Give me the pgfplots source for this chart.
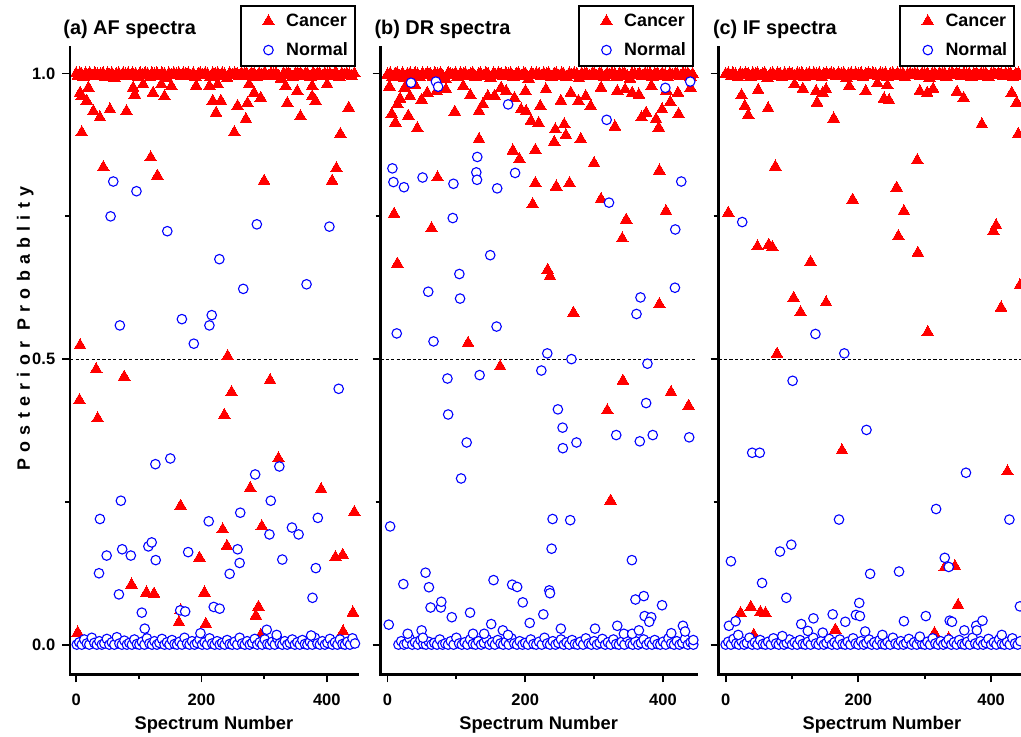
\documentclass[border=0pt]{standalone}
\usepackage{pgfplots}
\pgfplotsset{compat=1.18}
\usepackage{fontspec}
\setmainfont{Liberation Sans}
\begin{document}
\pgfplotsset{
 canc/.style={only marks, mark=triangle*, mark size=3.38pt, red, mark options={solid, fill=red, draw=red, line width=0pt}},
 norm/.style={only marks, mark=*, mark size=2.4pt, blue, mark options={solid, fill=white, draw=blue, line width=0.55pt}},
 panel/.style={
  scale only axis, height=315.5pt,
  ymin=-0.052, ymax=1.047,
  axis line style={draw=none},
  tick pos=left,
  tick align=outside,
  xtick={0,200,400}, xticklabels={0,200,400}, minor xtick={100,300},
  ytick={0,0.5,1}, minor ytick={0.25,0.75},
  major tick length=4pt, minor tick length=2.5pt,
  every tick/.style={black, line width=0.9pt},
  ticklabel style={font=\bfseries\fontsize{8.3}{9}\selectfont},
  xticklabel style={yshift=-2.5pt},
  clip=false,
  legend cell align=left,
  legend image code/.code={\path (-12pt,0pt) (6.5pt,0pt); \draw[##1] plot coordinates {(0pt,0pt)};},
  legend style={draw=black, line width=0.8pt, fill=white, font=\bfseries\fontsize{9}{10}\selectfont, anchor=north east, inner xsep=1.5pt, inner ysep=2pt, row sep=2.5pt},
  every axis x label/.style={at={(axis description cs:0.5,-0.08)}, anchor=center, font=\bfseries\fontsize{9.2}{10}\selectfont},
  xlabel={Spectrum Number},
 },
 frame/.code={\draw[line width=1.2pt, line cap=rect] (axis description cs:0,1) -- (axis description cs:0,0) -- (axis description cs:1,0);},
 half/.style={forget plot, black, line width=0.5pt, dash pattern=on 1.6pt off 1.1pt},
}
\begin{tikzpicture}
\useasboundingbox (0,0) rectangle (510.5pt,370pt);
% ---------------- Panel (a) ----------------
\begin{axis}[panel, at={(32.5pt,31pt)}, anchor=south west, width=144.5pt,
  xmin=-9.5, xmax=449.2,
  yticklabels={0.0,0.5,1.0},
  every axis y label/.style={at={(axis description cs:-0.156,0.551)}, rotate=90, anchor=center, font=\bfseries\fontsize{9}{10}\selectfont},
  ylabel={\addfontfeature{LetterSpace=35}Posterior Probablity},
  legend style={at={(axis description cs:0.993,1.0666)}},
  after end axis/.code={\pgfplotsset{frame}\node[inner sep=0pt, anchor=base west, font=\bfseries\fontsize{10}{12}\selectfont] at (axis description cs:-0.025,1.019) {(a) AF spectra};}]
\addplot[half] coordinates {(-9.5,0.5)(449.2,0.5)};
\addplot[canc] coordinates {
(0,1)(3,0.996)(6,1)(9,0.998)(12,0.993)(15,1)(19,0.997)(22,1)(26,0.995)(30,1)(34,0.998)(39,0.999)(43,1)(46,0.994)(50,1)(53,0.997)(57,1)(61,0.992)(64,0.999)(68,1)(72,0.996)(75,1)(79,0.998)(83,1)(87,0.995)(90,1)(95,0.999)(99,0.993)(102,1)(106,0.997)(110,1)(114,0.999)(118,0.994)(121,1)(125,0.998)(129,1)(133,0.996)(137,1)(141,0.999)(145,0.992)(148,1)(152,0.997)(156,1)(160,0.998)(164,1)(168,0.995)(171,1)(175,0.999)(179,1)(183,0.996)(187,1)(191,0.993)(195,0.999)(198,1)(202,0.997)(206,1)(210,0.998)(214,0.994)(218,1)(222,0.999)(226,1)(229,0.996)(233,1)(237,0.998)(241,0.992)(245,1)(249,0.997)(253,1)(257,0.999)(261,0.995)(264,1)(268,0.998)(272,1)(276,0.996)(280,1)(284,0.999)(288,0.993)(292,1)(296,0.997)(300,1)(303,0.998)(307,0.995)(311,1)(315,0.999)(319,1)(323,0.996)(327,0.991)(331,1)(335,0.998)(339,1)(342,0.997)(346,0.994)(350,1)(354,0.999)(358,1)(362,0.996)(366,1)(370,0.998)(374,0.993)(378,1)(381,0.997)(385,1)(389,0.999)(393,0.995)(397,1)(401,0.998)(405,1)(409,0.996)(413,1)(416,0.999)(420,0.994)(424,1)(428,0.997)(432,1)(436,0.998)(440,0.995)(444,1)
(6.3,0.966)(19.6,0.975)(9,0.960)(17,0.952)(27.5,0.934)(38,0.923)(54,0.937)(80.4,0.934)(9,0.897)(91,0.975)(93.6,0.963)(106.9,0.981)(122.7,0.966)(136,0.981)(141,0.96)(152,0.978)(191.5,0.978)(212.7,0.978)(218,0.952)(226,0.981)(223.3,0.931)(231,0.952)(257.6,0.943)(252.4,0.897)(270.9,0.920)(273.5,0.948)(276,0.981)(284,0.966)(294.7,0.957)(334.4,0.978)(337,0.948)(352.9,0.969)(358,0.925)(376.7,0.978)(376.7,0.96)(382,0.952)(400.5,0.981)(421.7,0.894)(435,0.94)(43.4,0.836)(119,0.853)(129.7,0.821)(300,0.812)(415.3,0.834)(408.5,0.812)(6.3,0.524)(241.8,0.505)(32,0.482)
(76.7,0.469)(5.3,0.428)(34.4,0.396)(248,0.442)(309.5,0.463)(236.5,0.402)(322.8,0.326)(277.8,0.274)(391,0.272)(166.7,0.243)(444,0.232)(233.9,0.2015)(296.3,0.207)(240.7,0.1725)(196.8,0.152)(413.8,0.153)(425.4,0.157)(88.4,0.105)(112.2,0.091)(124.3,0.089)(204.8,0.091)(291,0.066)(286.8,0.0505)(441.7,0.056)(164,0.039)(207,0.036)(2.6,0.021)(294.7,0.017)(426,0.023)(167,0.06)
};
\addplot[norm] coordinates {
(1,0)(5,0.004)(9,0)(13,0.009)(17,0.002)(21,0)(25,0.012)(29,0.003)(33,0)(37,0.006)(41,0)(45,0.002)(49,0.01)(53,0)(57,0.004)(61,0)(65,0.013)(69,0.002)(73,0)(77,0.007)(81,0)(85,0.003)(89,0)(93,0.009)(97,0.001)(101,0)(105,0.005)(109,0)(113,0.011)(117,0.002)(121,0)(125,0.006)(129,0)(133,0.003)(137,0.01)(141,0)(145,0.004)(149,0)(153,0.008)(157,0.001)(161,0)(165,0.005)(169,0)(173,0.012)(177,0.002)(181,0)(185,0.006)(189,0)(193,0.003)(197,0.009)(201,0)(205,0.004)(209,0)(213,0.011)(217,0.002)(221,0)(225,0.006)(229,0)(233,0.003)(237,0)(241,0.008)(245,0.001)(249,0)(253,0.005)(257,0)(261,0.012)(265,0.002)(269,0)(273,0.006)(277,0)(281,0.003)(285,0.01)(289,0)(293,0.004)(297,0)(301,0.009)(305,0.001)(309,0)(313,0.005)(317,0)(321,0.011)(325,0.002)(329,0)(333,0.006)(337,0)(341,0.003)(345,0.009)(349,0)(353,0.004)(357,0)(361,0.008)(365,0.001)(369,0)(373,0.005)(377,0)(381,0.012)(385,0.002)(389,0)(393,0.006)(397,0)(401,0.003)(405,0.01)(409,0)(413,0.004)(417,0)(421,0.009)(425,0.001)(429,0)(433,0.005)(437,0)(441,0.011)(445,0.002)
(59.3,0.811)(96.3,0.794)(55,0.750)(145.5,0.724)(288.4,0.736)(404.2,0.732)(228.6,0.675)(266.7,0.623)(367.7,0.631)(69.8,0.559)(168.8,0.570)(216.4,0.577)(212.7,0.559)(187.8,0.527)
(419,0.448)(126.5,0.316)(150.3,0.326)(285.7,0.298)(324.3,0.312)(71.4,0.252)(310.6,0.252)(38,0.220)(211.6,0.216)(261.9,0.231)(308.5,0.193)(344.4,0.205)(355,0.193)(385.7,0.222)(48.7,0.156)(73.5,0.167)(87.3,0.156)(115.3,0.172)(120.6,0.179)(127,0.148)(178.8,0.162)(257.7,0.167)(260.9,0.143)(245,0.124)(329,0.149)(382.5,0.134)(36.5,0.125)(68.3,0.088)(104.8,0.056)(109.5,0.028)(166.1,0.060)(174,0.058)(219.6,0.066)(229,0.063)(377.2,0.082)(198.4,0.020)(304.2,0.026)(320,0.017)(375,0.016)
};
\legend{Cancer,Normal}
\end{axis}
% ---------------- Panel (b) ----------------
\begin{axis}[panel, at={(188.5pt,31pt)}, anchor=south west, width=159pt,
  xmin=-10.1, xmax=449,
  yticklabels={},
  legend style={at={(axis description cs:0.99,1.0666)}},
  after end axis/.code={\pgfplotsset{frame}\node[inner sep=0pt, anchor=base west, font=\bfseries\fontsize{10}{12}\selectfont] at (axis description cs:-0.02,1.019) {(b) DR spectra};}]
\addplot[half] coordinates {(-10.1,0.5)(449,0.5)};
\addplot[canc] coordinates {
(0,0.998)(4,1)(7,0.994)(11,0.999)(14,1)(18,0.996)(22,1)(25,0.992)(29,0.999)(33,1)(36,0.995)(40,1)(44,0.998)(47,0.993)(51,1)(55,0.997)(58,1)(62,0.999)(66,0.994)(69,1)(73,0.998)(77,1)(80,0.996)(84,0.991)(88,1)(91,0.999)(95,0.997)(99,1)(102,0.994)(106,1)(110,0.998)(113,1)(117,0.996)(121,0.999)(124,1)(128,0.993)(132,0.998)(135,1)(139,0.996)(143,1)(146,0.999)(150,0.992)(154,1)(157,0.997)(161,1)(165,0.999)(168,0.995)(172,1)(176,0.998)(179,1)(183,0.994)(187,0.999)(190,1)(194,0.996)(198,1)(201,0.998)(205,0.991)(209,1)(212,0.997)(216,1)(220,0.999)(223,0.995)(227,1)(231,0.998)(234,1)(238,0.993)(242,0.999)(245,1)(249,0.996)(253,1)(256,0.998)(260,0.994)(264,1)(267,0.997)(271,1)(275,0.999)(278,0.992)(282,1)(286,0.998)(289,1)(293,0.995)(297,0.999)(300,1)(304,0.996)(308,1)(311,0.998)(315,0.993)(319,1)(322,0.997)(326,1)(330,0.999)(333,0.994)(337,1)(341,0.998)(344,1)(348,0.996)(352,0.991)(355,1)(359,0.999)(363,0.997)(366,1)(370,0.995)(374,1)(377,0.998)(381,1)(385,0.993)(388,0.999)(392,1)(396,0.996)(399,1)(403,0.998)(407,0.994)(410,1)(414,0.997)(418,1)(421,0.999)(425,0.995)(429,1)(432,0.998)(436,1)(440,0.994)(443,0.999)
(25,0.975)(40,0.98)(85,0.972)(110,0.978)(165,0.975)(230,0.972)(310,0.975)(345,0.972)(405,0.97)(440,0.975)
(2.9,0.977)(18.3,0.956)(14.4,0.946)(6.3,0.929)(11.5,0.914)(30.3,0.926)(43.3,0.904)(32.7,0.960)(49.6,0.954)(57.8,0.966)(71.3,0.969)(97.7,0.933)(120.3,0.962)(132.9,0.934)(138.6,0.946)(145.8,0.960)(155.5,0.961)(132.9,0.885)(172.3,0.969)(184.4,0.957)(194,0.937)(201.2,0.934)(208.4,0.917)(219.5,0.913)(221.9,0.943)(200.3,0.969)(182,0.865)(191.6,0.850)(214.7,0.866)(243.6,0.902)(242.1,0.880)(256.6,0.911)(259,0.892)(251.8,0.952)(266.2,0.966)(277.3,0.952)(280.6,0.885)(287.8,0.960)(295,0.943)(299.9,0.843)(330.2,0.907)(333.6,0.969)(355.2,0.966)(364.9,0.963)(368.7,0.923)(375.5,0.931)(383.2,0.978)(389.9,0.920)(393.8,0.905)(398.6,0.937)(410.6,0.950)(421.7,0.966)(422.6,0.929)(394.7,0.830)(9.6,0.754)(64,0.729)(72.7,0.818)(214.7,0.808)(245,0.802)(264.3,0.808)(210.8,0.771)(310,0.780)(346.6,0.744)(340.8,0.711)(404.3,0.759)(14.4,0.667)(232.5,0.656)(235.9,0.645)(270,0.581)(394.7,0.596)(117,0.528)(163.6,0.487)(341.8,0.462)(411.6,0.442)(319.1,0.410)(437.1,0.418)(323.9,0.252)
};
\addplot[norm] coordinates {
(16,0)(20,0.006)(24,0)(28,0.002)(32,0.011)(36,0)(40,0.004)(44,0)(48,0.008)(52,0.001)(56,0)(60,0.005)(64,0)(68,0.003)(72,0)(76,0.009)(80,0)(84,0.002)(88,0)(92,0.006)(96,0)(100,0.012)(104,0.002)(108,0)(112,0.004)(116,0)(120,0.009)(124,0.001)(128,0)(132,0.006)(136,0)(140,0.003)(144,0.01)(148,0)(152,0.004)(156,0)(160,0.008)(164,0.002)(168,0)(172,0.005)(176,0)(180,0.011)(184,0.002)(188,0)(192,0.006)(196,0)(200,0.003)(204,0)(208,0.009)(212,0.001)(216,0)(220,0.005)(224,0)(228,0.012)(232,0.002)(236,0)(240,0.006)(244,0)(248,0.003)(252,0.009)(256,0)(260,0.004)(264,0)(268,0.008)(272,0.001)(276,0)(280,0.005)(284,0)(288,0.011)(292,0.002)(296,0)(300,0.006)(304,0)(308,0.003)(312,0.01)(316,0)(320,0.004)(324,0)(328,0.009)(332,0.001)(336,0)(340,0.005)(344,0)(348,0.012)(352,0.002)(356,0)(360,0.006)(364,0)(368,0.003)(372,0.009)(376,0)(380,0.004)(384,0)(388,0.008)(392,0.001)(396,0)(400,0.005)(404,0)(408,0.011)(412,0.002)(416,0)(420,0.006)(424,0)(428,0.003)(432,0.01)(436,0)(440,0.004)(444,0)
(34.2,0.984)(70.3,0.986)(73.6,0.977)(439.5,0.986)(403.4,0.975)(175.2,0.946)(318.2,0.919)(7.2,0.834)(8.7,0.810)(24,0.801)(51,0.818)(95.8,0.807)(130.4,0.854)(129,0.827)(130,0.814)(159.3,0.799)(185.3,0.826)(321.6,0.774)(426.5,0.811)(94.8,0.747)(417.8,0.727)(149.2,0.682)(104.4,0.649)(105.4,0.606)(59.2,0.618)(367.3,0.608)(361.5,0.579)(417.3,0.625)(13.5,0.545)(66.9,0.531)(158.4,0.557)(232,0.510)(267.1,0.500)(377.4,0.492)(223.4,0.480)
(87.1,0.466)(133.8,0.472)(88.1,0.403)(115,0.354)(106.9,0.291)(247.4,0.412)(254.2,0.380)(254.6,0.344)(274.4,0.354)(375.5,0.423)(332.1,0.367)(366.3,0.356)(385.1,0.367)(438,0.363)(3.9,0.207)(239.7,0.220)(265.3,0.218)(238.3,0.168)(354.8,0.148)(55.3,0.126)(23.1,0.106)(60.2,0.1005)(62.6,0.065)(77.5,0.065)(78.2,0.075)(93.4,0.048)(119.9,0.056)(154,0.113)(181,0.105)(188.3,0.101)(196.4,0.074)(206.5,0.038)(226.3,0.053)(234.9,0.095)(235.9,0.090)(251.7,0.028)(150.6,0.036)(1.9,0.035)(301.3,0.028)(333.6,0.033)(360,0.079)(372.1,0.085)(398.6,0.069)(373.3,0.050)(382.9,0.048)(380,0.040)(428.9,0.033)(412,0.020)(29.4,0.019)(49.6,0.025)(51.5,0.012)(124.2,0.019)(140.4,0.019)(167.5,0.025)(175,0.017)(343.2,0.019)(355.2,0.019)(365,0.025)(432,0.023)(444,0.008)
};
\legend{Cancer,Normal}
\end{axis}
% ---------------- Panel (c) ----------------
\begin{axis}[panel, at={(358.5pt,31pt)}, anchor=south west, width=152pt,
  xmin=-10.5, xmax=445,
  yticklabels={},
  every axis x label/.style={at={(axis description cs:0.54,-0.08)}, anchor=center, font=\bfseries\fontsize{9.2}{10}\selectfont},
  legend style={at={(axis description cs:0.98,1.0666)}},
  after end axis/.code={\pgfplotsset{frame}\node[inner sep=0pt, anchor=base west, font=\bfseries\fontsize{10}{12}\selectfont] at (axis description cs:-0.02,1.019) {(c) IF spectra};}]
\addplot[half] coordinates {(-10.5,0.5)(445,0.5)};
\addplot[canc] coordinates {
(0,0.999)(4,1)(8,0.995)(11,1)(15,0.998)(19,0.993)(22,1)(26,0.997)(30,1)(34,0.999)(37,0.994)(41,1)(45,0.998)(48,1)(52,0.996)(56,0.999)(59,1)(63,0.992)(67,0.998)(71,1)(74,0.996)(78,1)(82,0.999)(85,0.994)(89,1)(93,0.997)(96,1)(100,0.999)(104,0.995)(108,1)(111,0.998)(115,1)(119,0.993)(122,0.999)(126,1)(130,0.996)(133,1)(137,0.998)(141,1)(145,0.994)(148,0.999)(152,1)(156,0.997)(159,1)(163,0.999)(167,0.995)(170,1)(174,0.998)(178,1)(182,0.992)(185,0.999)(189,1)(193,0.996)(196,1)(200,0.998)(204,1)(207,0.994)(211,0.999)(215,1)(219,0.997)(222,1)(226,0.999)(230,0.995)(233,1)(237,0.998)(241,1)(244,0.993)(248,0.999)(252,1)(256,0.996)(259,1)(263,0.998)(267,1)(270,0.994)(274,0.999)(278,1)(281,0.997)(285,1)(289,0.999)(293,0.995)(296,1)(300,0.998)(304,1)(307,0.992)(311,0.999)(315,1)(318,0.996)(322,1)(326,0.998)(330,1)(333,0.994)(337,0.999)(341,1)(344,0.997)(348,1)(352,0.999)(355,0.995)(359,1)(363,0.998)(367,1)(370,0.993)(374,0.999)(378,1)(381,0.996)(385,1)(389,0.998)(392,1)(396,0.994)(400,0.999)(404,1)(407,0.997)(411,1)(415,0.999)(418,0.995)(422,1)(426,0.998)(429,1)(433,0.993)(437,0.999)(441,1)(445,0.996)
(49,0.971)(24,0.962)(29,0.943)(34,0.927)(64,0.939)(103.8,0.981)(116.4,0.973)(136.3,0.969)(137.8,0.949)(151.3,0.972)(146.3,0.966)(162.8,0.921)(186.2,0.978)(211.2,0.969)(228.7,0.983)(243.7,0.979)(238.7,0.956)(246.2,0.953)(292.6,0.969)(303.6,0.966)(312.6,0.973)(348.6,0.968)(358.6,0.957)(386,0.911)(431,0.966)(438.5,0.949)(440.9,0.894)(74.9,0.837)(288.7,0.848)(4,0.756)(191.3,0.779)(257.7,0.800)(268.6,0.759)(260.2,0.715)(289.6,0.686)(407.5,0.734)(403.5,0.724)(47.9,0.697)(64.9,0.700)(70.4,0.696)(127.8,0.670)(102.4,0.607)(112.9,0.582)(151.3,0.599)(304.6,0.547)(415,0.590)(443.4,0.629)(77.4,0.509)
(175.3,0.340)(424.5,0.303)(330.1,0.135)(345.5,0.137)(350.1,0.069)(22.5,0.055)(37.9,0.066)(52.4,0.057)(60,0.055)(42.4,0.017)(165.3,0.026)(314.6,0.020)(336,0.011)(410.9,0.010)
};
\addplot[norm] coordinates {
(0,0)(4,0.005)(8,0)(12,0.01)(16,0.002)(20,0)(24,0.006)(28,0)(32,0.003)(36,0.012)(40,0)(44,0.004)(48,0)(52,0.008)(56,0.001)(60,0)(64,0.005)(68,0)(72,0.011)(76,0.002)(80,0)(84,0.006)(88,0)(92,0.003)(96,0.009)(100,0)(104,0.004)(108,0)(112,0.008)(116,0.001)(120,0)(124,0.005)(128,0)(132,0.012)(136,0.002)(140,0)(144,0.006)(148,0)(152,0.003)(156,0.01)(160,0)(164,0.004)(168,0)(172,0.009)(176,0.001)(180,0)(184,0.005)(188,0)(192,0.011)(196,0.002)(200,0)(204,0.006)(208,0)(212,0.003)(216,0.009)(220,0)(224,0.004)(228,0)(232,0.008)(236,0.001)(240,0)(244,0.005)(248,0)(252,0.012)(256,0.002)(260,0)(264,0.006)(268,0)(272,0.003)(276,0.01)(280,0)(284,0.004)(288,0)(292,0.009)(296,0.001)(300,0)(304,0.005)(308,0)(312,0.011)(316,0.002)(320,0)(324,0.006)(328,0)(332,0.003)(336,0.009)(340,0)(344,0.004)(348,0)(352,0.008)(356,0.001)(360,0)(364,0.005)(368,0)(372,0.012)(376,0.002)(380,0)(384,0.006)(388,0)(392,0.003)(396,0.01)(400,0)(404,0.004)(408,0)(412,0.009)(416,0.001)(420,0)(424,0.005)(428,0)(432,0.011)(436,0.002)(440,0)(444,0.006)
(25,0.740)(135.3,0.544)(178.8,0.510)(100.9,0.462)(212.2,0.376)(40,0.336)(51.4,0.336)(362.1,0.301)(317.1,0.2375)(170.8,0.219)(427.5,0.219)(8,0.146)(81.9,0.163)(98.9,0.175)(54.9,0.108)(217.7,0.124)(261.2,0.128)(330.1,0.152)(336.1,0.136)(91.4,0.082)(201.3,0.073)(196.3,0.052)(202.3,0.050)(161.3,0.053)(132.3,0.046)(113.9,0.036)(180.3,0.040)(268.6,0.041)(301.6,0.050)(337.6,0.042)(341,0.040)(377.5,0.033)(378.5,0.025)(387,0.042)(359.6,0.025)(443.4,0.067)(5,0.033)(15,0.041)(19,0.017)(123.8,0.024)(146.3,0.021)(210.2,0.023)(236.2,0.017)(416,0.017)(292.6,0.014)(85.4,0.015)
};
\legend{Cancer,Normal}
\end{axis}
\end{tikzpicture}
\end{document}
